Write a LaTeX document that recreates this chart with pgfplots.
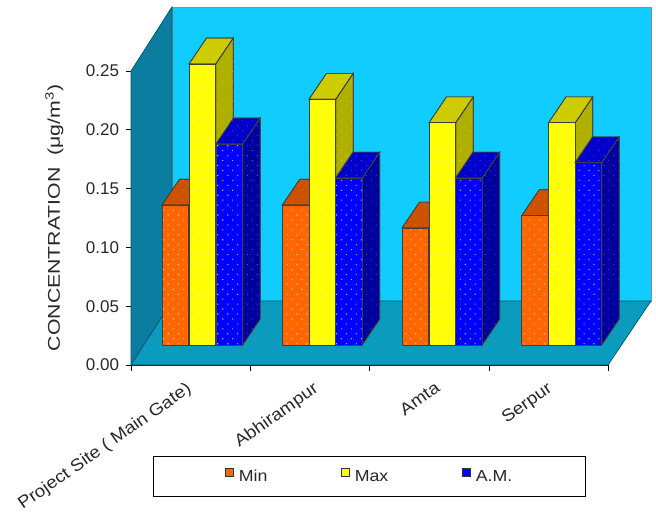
\documentclass[border=0pt]{standalone}
\usepackage{pgfplots}
\pgfplotsset{compat=1.18}
\usepackage{fontspec}
\setmainfont{Liberation Sans}
\newfontfamily\widefont[FakeStretch=1.11]{Liberation Sans}
\newfontfamily\widerfont[FakeStretch=1.25]{Liberation Sans}
\usetikzlibrary{patterns.meta}
\definecolor{wallc}{RGB}{16,204,255}
\definecolor{sidewall}{RGB}{10,125,160}
\definecolor{floorc}{RGB}{10,155,190}
\definecolor{edgec}{RGB}{0,85,110}
\definecolor{txt}{RGB}{40,40,40}
\definecolor{of}{RGB}{255,102,0}\definecolor{ot}{RGB}{204,82,0}\definecolor{os}{RGB}{170,68,0}
\definecolor{yf}{RGB}{255,255,0}\definecolor{yt}{RGB}{204,204,0}\definecolor{ys}{RGB}{175,175,0}
\definecolor{bf}{RGB}{0,0,255}\definecolor{bt}{RGB}{0,0,204}\definecolor{bs}{RGB}{0,0,160}
% one bar: left edge, top value, colours of front, top, side
\newcommand{\cuboid}[5]{%
  \pgfmathsetmacro{\xa}{#1}\pgfmathsetmacro{\xb}{#1+26.7}%
  \pgfmathsetmacro{\xc}{#1+44.2}\pgfmathsetmacro{\xd}{#1+17.5}%
  \pgfmathsetmacro{\yb}{0.017}\pgfmathsetmacro{\ybb}{0.039}%
  \pgfmathsetmacro{\yt}{#2}\pgfmathsetmacro{\ytt}{#2+0.022}%
  \addplot[forget plot,draw=black!75,line width=.7pt,fill=#5,
    postaction={pattern={Dots[distance=7pt,angle=45,radius=.6pt]},pattern color=white!35!#5}]
    coordinates {(\xb,\yb)(\xc,\ybb)(\xc,\ytt)(\xb,\yt)} -- cycle;
  \addplot[forget plot,draw=black!75,line width=.7pt,fill=#4,
    postaction={pattern={Dots[distance=7pt,angle=45,radius=.6pt]},pattern color=white!30!#4}]
    coordinates {(\xa,\yt)(\xd,\ytt)(\xc,\ytt)(\xb,\yt)} -- cycle;
  \addplot[forget plot,draw=black!75,line width=.7pt,fill=#3,
    postaction={pattern={Dots[distance=7pt,angle=45,radius=.8pt]},pattern color=white!65!#3}]
    coordinates {(\xa,\yb)(\xa,\yt)(\xb,\yt)(\xb,\yb)} -- cycle;
}
\begin{document}
\begin{tikzpicture}
\path[use as bounding box] (0,0) rectangle (656pt,512pt);
\begin{axis}[
  at={(131pt,147pt)},anchor=south west,
  scale only axis,width=478pt,height=294pt,
  xmin=0,xmax=478,ymin=0,ymax=0.25,
  clip=false,
  axis x line*=bottom,axis y line*=left,
  axis line style={black,line width=.9pt,-},
  every tick/.style={black,line width=.9pt},
  tick align=outside,
  major tick length=5.5pt,
  ytick={0,0.05,0.10,0.15,0.20,0.25},
  yticklabel style={/pgf/number format/fixed,/pgf/number format/fixed zerofill,
    /pgf/number format/precision=2,/pgf/number format/assume math mode=true,
    font=\fontsize{17}{19}\selectfont,text=txt,xshift=-3pt},
  xtick={0,119.25,238.5,358,477},
  xticklabels={},
  extra x ticks={43,170,292,404},
  extra x tick labels={Project Site ( Main Gate),Abhirampur,Amta,Serpur},
  extra x tick style={major tick length=0pt,
    xticklabel style={rotate=35,anchor=north east,font=\widefont\fontsize{17}{19}\selectfont,text=txt,
      inner sep=0pt,yshift=-19.5pt}},
  ylabel={CONCENTRATION\ \ (μg/m\textsuperscript{3})},
  ylabel style={font=\widerfont\fontsize{17}{19}\selectfont,text=txt,at={(axis description cs:0,0.5)},anchor=south,yshift=64pt},
  legend columns=3,
  legend style={at={(axis cs:22,-0.1122)},anchor=south west,draw=black,line width=1.2pt,
    minimum width=432pt,minimum height=40pt,
    nodes={minimum width=0pt,minimum height=0pt,inner sep=1.5pt,xshift=3pt},
    font=\widefont\fontsize{16}{18}\selectfont,text=txt,
    /tikz/every odd column/.append style={column sep=3pt},
    /tikz/every even column/.append style={column sep=72.5pt}},
  legend cell align=left,
]
% chart walls
\addplot[forget plot,draw=black!45,line width=.8pt,fill=wallc]
  coordinates {(41,0.0544)(41,0.3045)(520,0.3045)(520,0.0544)} -- cycle;
\addplot[forget plot,draw=edgec,line width=.7pt,fill=sidewall]
  coordinates {(0,0)(0,0.25)(41,0.3045)(41,0.0544)} -- cycle;
\addplot[forget plot,draw=edgec,line width=.7pt,fill=floorc]
  coordinates {(0,0)(477,0)(520,0.0544)(41,0.0544)} -- cycle;
% bars
\cuboid{31}{0.136}{of}{ot}{os}
\cuboid{58}{0.256}{yf}{yt}{ys}
\cuboid{85}{0.188}{bf}{bt}{bs}
\cuboid{151.3}{0.136}{of}{ot}{os}
\cuboid{178}{0.226}{yf}{yt}{ys}
\cuboid{204.5}{0.159}{bf}{bt}{bs}
\cuboid{271}{0.1165}{of}{ot}{os}
\cuboid{298}{0.206}{yf}{yt}{ys}
\cuboid{324.5}{0.159}{bf}{bt}{bs}
\cuboid{390.7}{0.127}{of}{ot}{os}
\cuboid{417.5}{0.206}{yf}{yt}{ys}
\cuboid{444}{0.172}{bf}{bt}{bs}
% legend keys
\addlegendimage{legend image code/.code={\draw[fill=of,draw=black!80,line width=.9pt] (0pt,-0.5pt) rectangle (8pt,7.5pt);}}
\addlegendentry{Min}
\addlegendimage{legend image code/.code={\draw[fill=yf,draw=black!80,line width=.9pt] (0pt,-0.5pt) rectangle (8pt,7.5pt);}}
\addlegendentry{Max}
\addlegendimage{legend image code/.code={\draw[fill=bf,draw=black!80,line width=.9pt] (0pt,-0.5pt) rectangle (8pt,7.5pt);}}
\addlegendentry{A.M.}
\end{axis}
\end{tikzpicture}
\end{document}
